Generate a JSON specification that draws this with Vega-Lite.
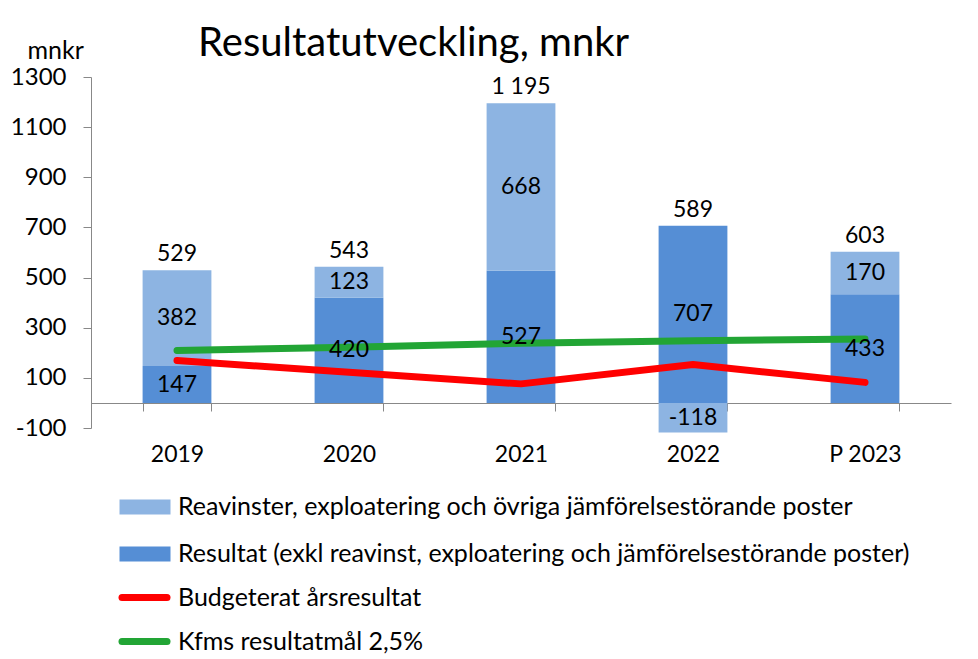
{
  "$schema": "https://vega.github.io/schema/vega-lite/v6.json",
  "width": 860,
  "height": 351,
  "autosize": {"type": "none"},
  "padding": {"left": 91, "top": 77, "right": 27, "bottom": 231},
  "background": "white",
  "config": {
    "font": "Lato",
    "view": {"stroke": null},
    "locale": {"number": {"decimal": ",", "thousands": " ", "grouping": [3], "currency": ["", " kr"], "minus": "-"}},
    "legend": {"padding": 0}
  },
  "title": {
    "text": "Resultatutveckling, mnkr",
    "anchor": "start",
    "frame": "group",
    "dx": 107,
    "dy": 26,
    "fontSize": 40,
    "fontWeight": "normal",
    "color": "black",
    "font": "Lato",
    "offset": 0
  },
  "datasets": {
    "bars": [
      {"year": "2019", "series": "Resultat (exkl reavinst, exploatering och jämförelsestörande poster)", "value": 147},
      {"year": "2019", "series": "Reavinster, exploatering och övriga jämförelsestörande poster", "value": 382},
      {"year": "2020", "series": "Resultat (exkl reavinst, exploatering och jämförelsestörande poster)", "value": 420},
      {"year": "2020", "series": "Reavinster, exploatering och övriga jämförelsestörande poster", "value": 123},
      {"year": "2021", "series": "Resultat (exkl reavinst, exploatering och jämförelsestörande poster)", "value": 527},
      {"year": "2021", "series": "Reavinster, exploatering och övriga jämförelsestörande poster", "value": 668},
      {"year": "2022", "series": "Resultat (exkl reavinst, exploatering och jämförelsestörande poster)", "value": 707},
      {"year": "2022", "series": "Reavinster, exploatering och övriga jämförelsestörande poster", "value": -118},
      {"year": "P 2023", "series": "Resultat (exkl reavinst, exploatering och jämförelsestörande poster)", "value": 433},
      {"year": "P 2023", "series": "Reavinster, exploatering och övriga jämförelsestörande poster", "value": 170}
    ],
    "lines": [
      {"year": "2019", "series": "Budgeterat årsresultat", "value": 169},
      {"year": "2020", "series": "Budgeterat årsresultat", "value": 122},
      {"year": "2021", "series": "Budgeterat årsresultat", "value": 76},
      {"year": "2022", "series": "Budgeterat årsresultat", "value": 153},
      {"year": "P 2023", "series": "Budgeterat årsresultat", "value": 82},
      {"year": "2019", "series": "Kfms resultatmål 2,5%", "value": 209},
      {"year": "2020", "series": "Kfms resultatmål 2,5%", "value": 222},
      {"year": "2021", "series": "Kfms resultatmål 2,5%", "value": 238},
      {"year": "2022", "series": "Kfms resultatmål 2,5%", "value": 248},
      {"year": "P 2023", "series": "Kfms resultatmål 2,5%", "value": 255}
    ]
  },
  "encoding": {
    "x": {
      "field": "year",
      "type": "nominal",
      "scale": {"domain": ["2019", "2020", "2021", "2022", "P 2023"], "paddingInner": 0.6, "paddingOuter": 0.3},
      "axis": {
        "title": null,
        "offset": -25,
        "domainColor": "#888888",
        "tickColor": "#888888",
        "tickSize": 8,
        "tickBand": "extent",
        "labelFontSize": 23,
        "labelColor": "black",
        "labelAngle": 0,
        "labelBaseline": "middle",
        "labelPadding": 43
      }
    }
  },
  "layer": [
    {
      "data": {"name": "bars"},
      "transform": [
        {"stack": "value", "groupby": ["year"], "sort": [{"field": "series", "order": "descending"}], "as": ["y0", "y1"], "offset": "zero"}
      ],
      "mark": {"type": "bar"},
      "encoding": {
        "y": {
          "field": "y1",
          "type": "quantitative",
          "title": "mnkr",
          "scale": {"domain": [-100, 1300], "nice": false, "zero": false},
          "axis": {
            "values": [-100, 100, 300, 500, 700, 900, 1100, 1300],
            "format": "d",
            "grid": false,
            "domainColor": "#888888",
            "tickColor": "#888888",
            "tickSize": 8,
            "labelFontSize": 24,
            "labelColor": "black",
            "labelPadding": 17,
            "titleAngle": 0,
            "titleX": -64,
            "titleY": -19,
            "titleAlign": "left",
            "titleBaseline": "alphabetic",
            "titleFontSize": 25,
            "titleFontWeight": "normal",
            "titleColor": "black"
          }
        },
        "y2": {"field": "y0"},
        "color": {
          "field": "series",
          "type": "nominal",
          "scale": {
            "domain": ["Reavinster, exploatering och övriga jämförelsestörande poster", "Resultat (exkl reavinst, exploatering och jämförelsestörande poster)"],
            "range": ["#8DB4E2", "#558ED5"]
          },
          "legend": {
            "orient": "none",
            "legendX": 39,
            "legendY": 415,
            "title": null,
            "symbolType": "M-1.7,-0.5H1.7V0.5H-1.7Z",
            "symbolSize": 900,
            "symbolStrokeWidth": 0,
            "labelFontSize": 25,
            "labelColor": "black",
            "labelOffset": 18,
            "labelLimit": 900,
            "rowPadding": 19
          }
        }
      }
    },
    {
      "data": {"name": "lines"},
      "mark": {"type": "line", "strokeWidth": 7, "strokeCap": "round", "strokeJoin": "round"},
      "encoding": {
        "y": {"field": "value", "type": "quantitative", "title": "mnkr"},
        "stroke": {
          "field": "series",
          "type": "nominal",
          "scale": {"domain": ["Budgeterat årsresultat", "Kfms resultatmål 2,5%"], "range": ["#FF0000", "#22A535"]},
          "legend": {
            "orient": "none",
            "legendX": 35,
            "legendY": 502,
            "title": null,
            "symbolType": "M-1.5,0H1.5",
            "symbolSize": 900,
            "symbolStrokeWidth": 7,
            "labelFontSize": 25,
            "labelColor": "black",
            "labelOffset": 15,
            "labelLimit": 900,
            "rowPadding": 11,
            "encode": {"symbols": {"update": {"strokeCap": {"value": "round"}}}}
          }
        }
      }
    },
    {
      "data": {"name": "bars"},
      "transform": [
        {"stack": "value", "groupby": ["year"], "sort": [{"field": "series", "order": "descending"}], "as": ["y0", "y1"], "offset": "zero"},
        {"fold": ["y0", "y1"], "as": ["k", "v"]},
        {"aggregate": [{"op": "mean", "field": "v", "as": "mid"}], "groupby": ["year", "series", "value"]}
      ],
      "mark": {"type": "text", "fontSize": 23, "color": "black", "baseline": "middle"},
      "encoding": {
        "y": {"field": "mid", "type": "quantitative", "title": "mnkr"},
        "text": {"field": "value", "type": "quantitative", "format": "d"}
      }
    },
    {
      "data": {"name": "bars"},
      "transform": [
        {"stack": "value", "groupby": ["year"], "sort": [{"field": "series", "order": "descending"}], "as": ["y0", "y1"], "offset": "zero"},
        {"aggregate": [{"op": "sum", "field": "value", "as": "total"}, {"op": "max", "field": "y1", "as": "top"}], "groupby": ["year"]}
      ],
      "mark": {"type": "text", "fontSize": 23, "color": "black", "baseline": "alphabetic", "dy": -9},
      "encoding": {
        "y": {"field": "top", "type": "quantitative", "title": "mnkr"},
        "text": {"field": "total", "type": "quantitative", "format": ",d"}
      }
    }
  ]
}
